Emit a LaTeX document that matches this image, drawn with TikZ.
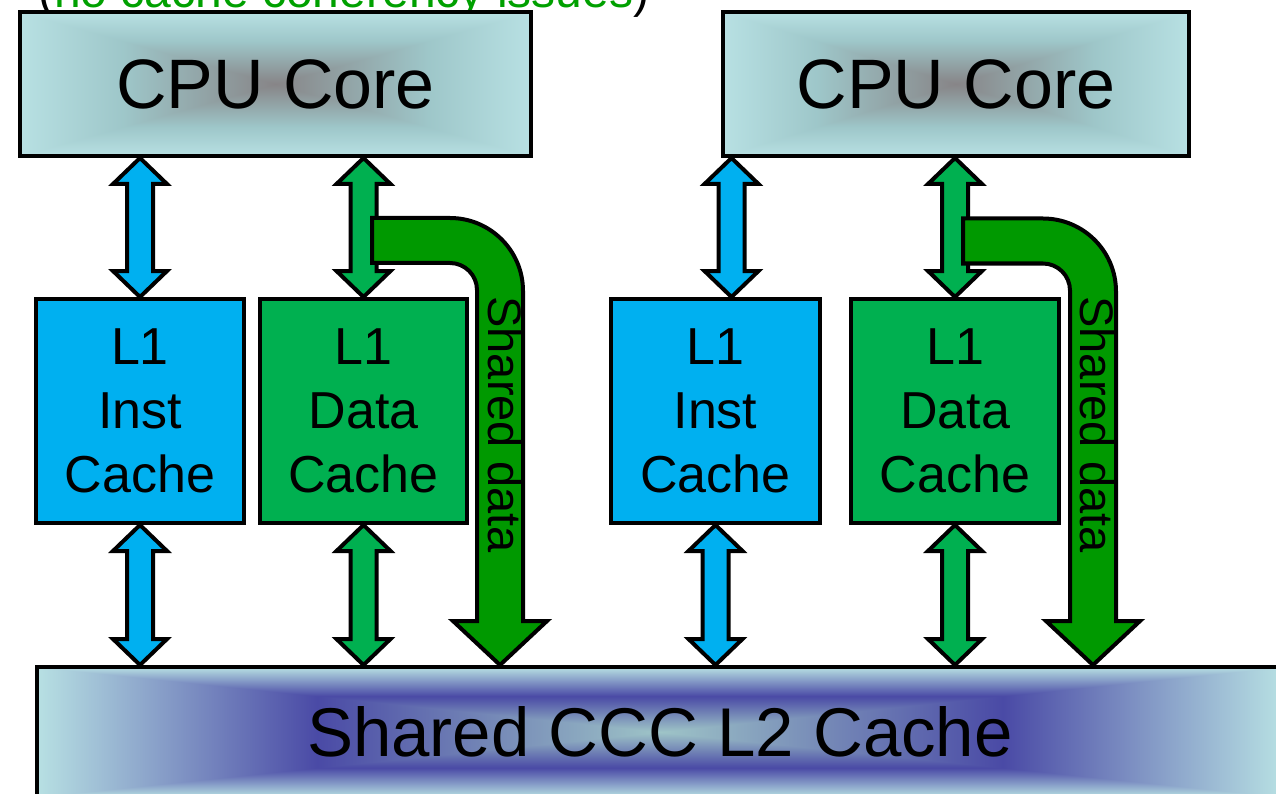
\documentclass[tikz,border=0pt]{standalone}
\usepackage{fontspec}
\setmainfont{Liberation Sans}
\usetikzlibrary{calc}

\definecolor{instblue}{RGB}{0,176,240}
\definecolor{datagreen}{RGB}{0,176,80}
\definecolor{sharegreen}{RGB}{0,153,0}
\definecolor{notegreen}{RGB}{0,160,0}

% Rectangular "from centre" gradients: t = max(|x|,|y|)/25 (the path box is the central 50bp square)
\pgfdeclarefunctionalshading{coreshade}{\pgfpoint{-50bp}{-50bp}}{\pgfpoint{50bp}{50bp}}{}{
  abs exch abs 2 copy lt {exch} if pop 25 div
  dup 1 gt {pop 1} if
  dup 0.6 lt
  {0.6 div dup dup 0.09 mul 0.53 add 3 1 roll 0.26 mul 0.52 add exch 0.26 mul 0.53 add}
  {0.6 sub 0.4 div dup dup 0.10 mul 0.62 add 3 1 roll 0.10 mul 0.78 add exch 0.10 mul 0.79 add}
  ifelse
}
\pgfdeclarefunctionalshading{ltwoshade}{\pgfpoint{-50bp}{-50bp}}{\pgfpoint{50bp}{50bp}}{}{
  abs exch abs 2 copy lt {exch} if pop 25 div
  dup 1 gt {pop 1} if
  dup 0.55 lt
  {0.55 div dup dup -0.33 mul 0.62 add 3 1 roll -0.48 mul 0.77 add exch -0.13 mul 0.78 add}
  {0.55 sub 0.45 div dup dup 0.43 mul 0.29 add 3 1 roll 0.59 mul 0.29 add exch 0.24 mul 0.65 add}
  ifelse
}

\tikzset{
  box/.style={draw=black, line width=4pt, inner sep=0pt, align=center},
  corebox/.style={box, shade, shading=coreshade, minimum height=144pt,
    font=\fontsize{70}{84}\selectfont},
  cachebox/.style={box, minimum width=208pt, minimum height=224pt,
    font=\fontsize{52}{64}\selectfont},
  blockline/.style={draw=black, line width=4pt, line join=miter},
}

% vertical double-headed block arrow between an upper tip #1 and a lower tip #2
\newcommand\dblarrow[3]{%
  \draw[blockline, fill=#3] let \p1=(#1), \p2=(#2) in
    (\x1,\y1) -- (\x1+27pt,\y1-26pt) -- (\x1+13pt,\y1-26pt) -- (\x1+13pt,\y2+26pt)
    -- (\x1+27pt,\y2+26pt) -- (\x2,\y2) -- (\x1-27pt,\y2+26pt) -- (\x1-13pt,\y2+26pt)
    -- (\x1-13pt,\y1-26pt) -- (\x1-27pt,\y1-26pt) -- cycle;}

% bent "shared data" arrow: horizontal bar starting at #1, turning down to the tip #2
\newcommand\sharedarrow[2]{%
  \draw[blockline, fill=sharegreen] let \p1=(#1), \p2=(#2) in
    (\x1,\y1+22.5pt) -- (\x2-50pt,\y1+22.5pt)
    .. controls (\x2-9.7pt,\y1+22.5pt) and (\x2+23pt,\y1-10.2pt) .. (\x2+23pt,\y1-50.5pt)
    -- (\x2+23pt,\y2+44pt) -- (\x2+47pt,\y2+44pt) -- (\x2,\y2) -- (\x2-47pt,\y2+44pt)
    -- (\x2-23pt,\y2+44pt) -- (\x2-23pt,\y1-49.5pt)
    .. controls (\x2-23pt,\y1-34.6pt) and (\x2-35.1pt,\y1-22.5pt) .. (\x2-50pt,\y1-22.5pt)
    -- (\x1,\y1-22.5pt) -- cycle;}

\begin{document}
\begin{tikzpicture}[x=1pt, y=-1pt]
  \path[use as bounding box] (0,0) rectangle (1276,794);
  \clip (0,0) rectangle (1276,794);

  % caption line running off the top edge
  \node[anchor=base west, inner sep=0pt, font=\fontsize{48}{58}\selectfont] (note)
    at (38,7.5) {(\textcolor{notegreen}{no cache coherency issues})};

  % cores
  \node[corebox, minimum width=511pt] (cpuA) at (275.5,84) {CPU Core};
  \node[corebox, minimum width=466pt] (cpuB) at (956,84) {CPU Core};

  % first-level caches
  \node[cachebox, fill=instblue]  (instA) at (140,411)   {L1\\Inst\\Cache};
  \node[cachebox, fill=datagreen, minimum width=207pt] (dataA) at (363.5,411) {L1\\Data\\Cache};
  \node[cachebox, fill=instblue, minimum width=209pt]  (instB) at (715.5,411) {L1\\Inst\\Cache};
  \node[cachebox, fill=datagreen] (dataB) at (955,411)   {L1\\Data\\Cache};

  % shared second-level cache
  \node[box, shade, shading=ltwoshade, minimum width=1246pt, minimum height=130pt,
    font=\fontsize{69}{83}\selectfont] (l2) at (660,732) {Shared CCC L2 Cache};

  % core <-> L1 links
  \coordinate (i2b) at ([xshift=16pt]instB.north);
  \coordinate (i2t) at (i2b |- cpuB.south);
  \dblarrow{cpuA.south -| instA.north}{instA.north}{instblue}
  \dblarrow{cpuA.south -| dataA.north}{dataA.north}{datagreen}
  \dblarrow{i2t}{i2b}{instblue}
  \dblarrow{cpuB.south -| dataB.north}{dataB.north}{datagreen}

  % L1 <-> L2 links
  \dblarrow{instA.south}{instA.south |- l2.north}{instblue}
  \dblarrow{dataA.south}{dataA.south |- l2.north}{datagreen}
  \dblarrow{instB.south}{instB.south |- l2.north}{instblue}
  \dblarrow{dataB.south}{dataB.south |- l2.north}{datagreen}

  % shared data paths bypassing the L1 data caches
  \coordinate (shA) at (372,240.5);
  \coordinate (shAtip) at (500,0 |- l2.north);
  \coordinate (shB) at (963,241);
  \coordinate (shBtip) at (1093,0 |- l2.north);
  \sharedarrow{shA}{shAtip}
  \sharedarrow{shB}{shBtip}

  \node[rotate=-90, inner sep=0pt, font=\fontsize{47}{56}\selectfont] (sdA) at (505,424.5) {Shared data};
  \node[rotate=-90, inner sep=0pt, font=\fontsize{47}{56}\selectfont] (sdB) at (1097,424.5) {Shared data};
\end{tikzpicture}
\end{document}
